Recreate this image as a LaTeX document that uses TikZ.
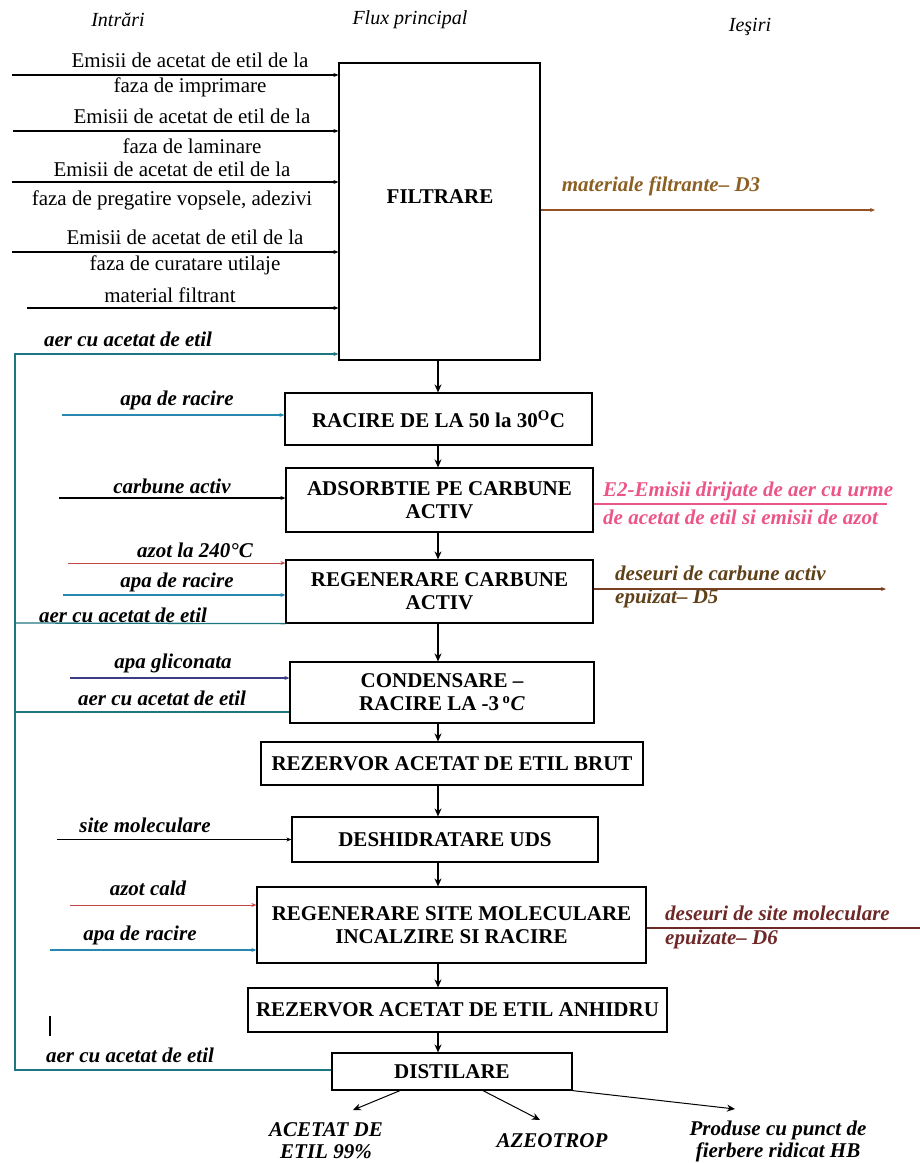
\documentclass[tikz,border=0pt]{standalone}
\usepackage{fontspec}
\setmainfont{Liberation Serif}
\usetikzlibrary{arrows.meta}
\definecolor{recycteal}{RGB}{30,118,128}
\definecolor{waterblue}{RGB}{40,135,175}
\definecolor{azotred}{RGB}{195,70,70}
\definecolor{glicblue}{RGB}{60,60,130}
\definecolor{wastebrown}{RGB}{150,80,40}
\definecolor{wastetext}{RGB}{140,95,35}
\definecolor{carbtext}{RGB}{95,65,25}
\definecolor{sitetext}{RGB}{110,40,40}
\definecolor{emispink}{RGB}{235,85,135}

\begin{document}
\begin{tikzpicture}[x=1pt,y=-1pt,
    proc/.style={draw, line width=1.2pt, align=center, inner sep=2pt,
        font=\fontsize{21}{23}\selectfont\bfseries},
    srclbl/.style={font=\fontsize{21}{23}\selectfont, inner sep=0pt},
    flowlbl/.style={font=\fontsize{21}{22}\selectfont\bfseries\itshape,
        inner sep=0pt, align=center},
    hdr/.style={font=\fontsize{20}{22}\selectfont\itshape, inner sep=0pt},
    inarr/.style={line width=1.3pt, -{Stealth[length=5pt,width=4pt]}},
    flow/.style={line width=1.2pt, -{Stealth[length=8pt,width=7pt]}},
    recyc/.style={draw=recycteal, line width=1.3pt}]

    \useasboundingbox (0,0) rectangle (920,1163);

    % column titles
    \node[hdr] (hIn) at (118,20) {Intrări};
    \node[hdr] (hFlux) at (410,20) {Flux principal};
    \node[hdr] (hOut) at (750,27) {Ieşiri};

    % main flow
    \node[proc, minimum width=201pt, minimum height=297pt] (filt) at (439.5,211.5) {};
    \node[proc, draw=none] (filtT) at (440,197) {FILTRARE};
    \node[proc, minimum width=307pt, minimum height=52pt] (racire) at (438.5,419)
        {RACIRE DE LA 50 la 30\textsuperscript{O}C};
    \node[proc, minimum width=307pt, minimum height=64pt] (adsorb) at (439.5,500)
        {ADSORBTIE PE CARBUNE\\ACTIV};
    \node[proc, minimum width=307pt, minimum height=63pt] (regc) at (439.5,591.5)
        {REGENERARE CARBUNE\\ACTIV};
    \node[proc, minimum width=304pt, minimum height=61pt] (cond) at (442,692.5)
        {CONDENSARE --\\RACIRE LA -3\,\textsuperscript{o}\textit{C}};
    \node[proc, minimum width=382pt, minimum height=43pt] (brut) at (452,763.5)
        {REZERVOR ACETAT DE ETIL BRUT};
    \node[proc, minimum width=306pt, minimum height=45pt] (desh) at (445,839.5)
        {DESHIDRATARE UDS};
    \node[proc, minimum width=389pt, minimum height=76pt] (regsite) at (451.5,925)
        {REGENERARE SITE MOLECULARE\\INCALZIRE SI RACIRE};
    \node[proc, minimum width=419pt, minimum height=44pt] (anh) at (457.5,1010)
        {REZERVOR ACETAT DE ETIL ANHIDRU};
    \node[proc, minimum width=240pt, minimum height=37pt] (distil) at (452,1071.5)
        {DISTILARE};

    \coordinate (mx) at (438,0);
    \foreach \a/\b in {filt/racire, racire/adsorb, adsorb/regc, regc/cond, cond/brut,
        brut/desh, desh/regsite, regsite/anh, anh/distil}
        \draw[flow] (\a.south -| mx) -- (\b.north -| mx);

    % inputs of FILTRARE
    \foreach \ly/\lx/\tx/\ta/\ya/\tb/\yb [count=\i] in {
        75/12/190/{Emisii de acetat de etil de la}/60/{faza de imprimare}/87,
        131/13/192/{Emisii de acetat de etil de la}/116/{faza de laminare}/146,
        182/12/172/{Emisii de acetat de etil de la}/169/{faza de pregatire vopsele, adezivi}/200,
        252/12/185/{Emisii de acetat de etil de la}/237/{faza de curatare utilaje}/265} {
        \node[srclbl] (ema\i) at (\tx,\ya) {\ta};
        \node[srclbl] (emb\i) at (\tx,\yb) {\tb};
        \coordinate (ems\i) at (\lx,\ly);
        \draw[inarr] (ems\i) -- (filt.west |- ems\i);
    }
    \node[srclbl] (matf) at (170,295) {material filtrant};
    \coordinate (matfs) at (27,308);
    \draw[inarr] (matfs) -- (filt.west |- matfs);

    % other inputs
    \node[flowlbl] (lw1) at (177,400) {apa de racire};
    \coordinate (w1) at (62,415);
    \draw[inarr, waterblue] (w1) -- (racire.west |- w1);

    \node[flowlbl] (lca) at (172,486) {carbune activ};
    \coordinate (ca) at (59,498);
    \draw[inarr] (ca) -- (adsorb.west |- ca);

    \node[flowlbl] (laz1) at (195,550) {azot la 240°C};
    \coordinate (az1) at (68,563);
    \draw[inarr, azotred, line width=1pt] (az1) -- (regc.west |- az1);

    \node[flowlbl] (lw2) at (177,582) {apa de racire};
    \coordinate (w2) at (63,595);
    \draw[inarr, waterblue] (w2) -- (regc.west |- w2);

    \node[flowlbl] (lgl) at (173,663) {apa gliconata};
    \coordinate (gl) at (70,678);
    \draw[inarr, glicblue] (gl) -- (cond.west |- gl);

    \node[flowlbl] (lsm) at (145,825) {site moleculare};
    \coordinate (sm) at (57,839.5);
    \draw[inarr, line width=1.6pt] (sm) -- (desh.west |- sm);

    \node[flowlbl] (laz2) at (148,888) {azot cald};
    \coordinate (az2) at (70,905);
    \draw[inarr, azotred, line width=1pt] (az2) -- (regsite.west |- az2);

    \node[flowlbl] (lw3) at (140,935) {apa de racire};
    \coordinate (w3) at (50,950);
    \draw[inarr, waterblue] (w3) -- (regsite.west |- w3);

    % air with ethyl acetate sent back to filtering
    \node[flowlbl] (laer1) at (128,339) {aer cu acetat de etil};
    \node[flowlbl] (laer2) at (123,615) {aer cu acetat de etil};
    \node[flowlbl] (laer3) at (162,698) {aer cu acetat de etil};
    \node[flowlbl] (laer4) at (130,1055) {aer cu acetat de etil};
    \coordinate (rtop) at (15,354);
    \coordinate (r1) at (15,623);
    \coordinate (r2) at (15,712);
    \coordinate (rbot) at (15,1070);
    \draw[recyc] (regc.south west) -- (r1);
    \draw[recyc] (cond.west |- r2) -- (r2);
    \draw[recyc, -{Stealth[length=5pt,width=4pt]}] (distil.west |- rbot) -- (rbot)
        -- (rtop) -- (filt.west |- rtop);
    \draw[line width=1.3pt] (50,1016) -- (50,1036);

    % outputs
    \node[flowlbl, text=wastetext] (lo1) at (661,186) {materiale filtrante– D3};
    \coordinate (o1) at (875,210);
    \draw[inarr, wastebrown, line width=2pt] (filt.east |- o1) -- (o1);

    \node[flowlbl, text=emispink, anchor=west] (lo2a) at (603,491)
        {E2-Emisii dirijate de aer cu urme};
    \node[flowlbl, text=emispink, anchor=west] (lo2b) at (603,517)
        {de acetat de etil si emisii de azot};
    \coordinate (o2) at (887,504);
    \draw[emispink, line width=2pt] (adsorb.east |- o2) -- (o2);

    \node[flowlbl, text=carbtext, anchor=west] (lo3a) at (615,573)
        {deseuri de carbune activ};
    \node[flowlbl, text=carbtext, anchor=west] (lo3b) at (615,598)
        {epuizat– D5};
    \coordinate (o3) at (886,589);
    \draw[inarr, wastebrown!80!black, line width=2pt] (regc.east |- o3) -- (o3);

    \node[flowlbl, text=sitetext, anchor=west] (lo4a) at (665,913)
        {deseuri de site moleculare};
    \node[flowlbl, text=sitetext, anchor=west] (lo4b) at (665,939)
        {epuizate– D6};
    \coordinate (o4) at (920,928);
    \draw[sitetext, line width=1.8pt] (regsite.east |- o4) -- (o4);

    % products of distillation
    \node[flowlbl] (prod1) at (326,1141) {ACETAT DE\\ETIL 99\%};
    \node[flowlbl] (prod2) at (552,1141) {AZEOTROP};
    \node[flowlbl] (prod3) at (778,1141) {Produse cu punct de\\fierbere ridicat HB};
    \coordinate (p1) at (353,1110);
    \coordinate (p2) at (540,1120);
    \coordinate (p3) at (735,1109);
    \draw[flow, line width=1pt] ([xshift=-52pt]distil.south) -- (p1);
    \draw[flow, line width=1pt] ([xshift=31pt]distil.south) -- (p2);
    \draw[flow, line width=1pt] (distil.south east) -- (p3);

\end{tikzpicture}
\end{document}
